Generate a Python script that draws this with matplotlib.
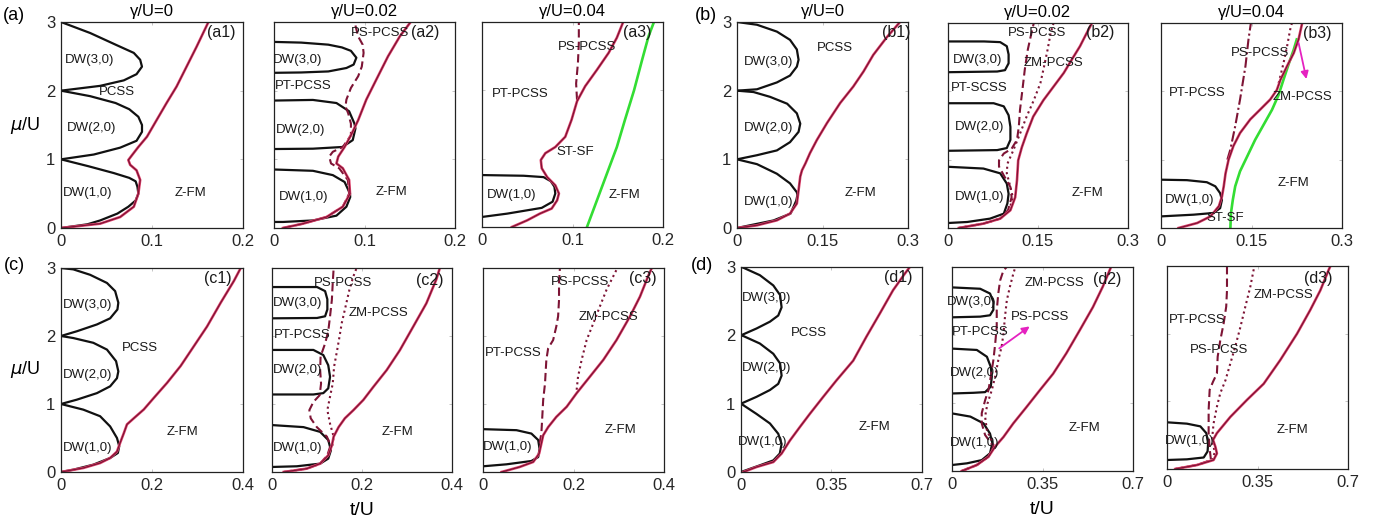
import matplotlib
matplotlib.use("Agg")
import matplotlib.pyplot as plt
import numpy as np

plt.rcParams['font.family'] = ['Liberation Sans', 'DejaVu Sans']

# ---------------- data: (t/U, mu/U) pairs ----------------
# (a1)
A1_DW1 = [(0,0),(0.029,0.054),(0.043,0.11),(0.062,0.21),(0.074,0.31),(0.082,0.40),(0.085,0.50),(0.084,0.60),(0.082,0.68),(0.075,0.73),(0.058,0.80),(0.03,0.9),(0,1.0)]
A1_DW2 = [(0,1.0),(0.036,1.07),(0.065,1.17),(0.083,1.27),(0.089,1.40),(0.089,1.50),(0.085,1.62),(0.075,1.73),(0.060,1.82),(0.032,1.92),(0,2.0)]
A1_DW3 = [(0,2.0),(0.043,2.07),(0.069,2.15),(0.083,2.24),(0.089,2.35),(0.087,2.45),(0.080,2.55),(0.060,2.67),(0.032,2.84),(0,3.0)]
A1_SOLID = [(0,0),(0.043,0.063),(0.065,0.16),(0.080,0.31),(0.085,0.50),(0.087,0.70),(0.083,0.84),(0.076,0.92),(0.074,0.99),(0.078,1.06),(0.085,1.18),(0.0945,1.33),(0.105,1.57),(0.116,1.82),(0.127,2.06),(0.138,2.35),(0.149,2.64),(0.162,3.0)]
# (a2)
A2_DW1 = [(0,0.852),(0.043,0.833),(0.065,0.77),(0.078,0.67),(0.084,0.50),(0.0842,0.45),(0.080,0.31),(0.069,0.18),(0.043,0.11),(0.01,0.088),(0,0.088)]
A2_DW2 = [(0,1.856),(0.043,1.865),(0.069,1.82),(0.083,1.70),(0.0889,1.52),(0.090,1.45),(0.087,1.28),(0.0757,1.18),(0.043,1.155),(0,1.15)]
A2_DW3 = [(0,2.71),(0.03,2.70),(0.06,2.67),(0.075,2.63),(0.085,2.58),(0.091,2.48),(0.088,2.38),(0.080,2.33),(0.06,2.28),(0.03,2.265),(0,2.26)]
A2_SOLID = [(0.0099,0),(0.032,0.063),(0.058,0.16),(0.076,0.31),(0.084,0.50),(0.083,0.70),(0.076,0.87),(0.069,0.94),(0.071,1.04),(0.078,1.18),(0.085,1.35),(0.093,1.57),(0.102,1.87),(0.113,2.16),(0.126,2.50),(0.139,2.79),(0.151,3.0)]
A2_DASH = [(0.0099,0),(0.032,0.063),(0.058,0.16),(0.076,0.31),(0.083,0.50),(0.0816,0.70),(0.072,0.87),(0.063,0.94),(0.061,1.04),(0.065,1.11),(0.076,1.18),(0.085,1.35),(0.085,1.52),(0.082,1.67),(0.079,1.77),(0.080,1.87),(0.085,2.04),(0.093,2.21),(0.097,2.35),(0.099,2.55),(0.098,2.67),(0.093,2.79),(0.089,3.0)]
# (a3)
A3_DW1 = [(0,0.76),(0.046,0.75),(0.068,0.73),(0.076,0.67),(0.080,0.59),(0.081,0.49),(0.078,0.37),(0.066,0.28),(0.028,0.196),(0,0.147)]
A3_SOLID = [(0.033,0),(0.050,0.098),(0.064,0.196),(0.077,0.27),(0.083,0.39),(0.085,0.49),(0.081,0.61),(0.072,0.73),(0.066,0.86),(0.065,0.98),(0.070,1.08),(0.081,1.17),(0.092,1.32),(0.099,1.57),(0.105,1.84),(0.114,2.06),(0.127,2.30),(0.140,2.55),(0.149,2.77),(0.156,3.0)]
A3_DASH = [(0.105,1.86),(0.104,2.1),(0.106,2.4),(0.107,2.7),(0.107,3.0)]
A3_GREEN = [(0.116,0),(0.127,0.39),(0.138,0.78),(0.149,1.17),(0.158,1.57),(0.168,2.0),(0.177,2.45),(0.184,2.79),(0.190,3.0)]
# (b1)
B1_DW1 = [(0,0),(0.023,0.04),(0.064,0.11),(0.094,0.21),(0.104,0.40),(0.106,0.48),(0.105,0.52),(0.093,0.65),(0.070,0.79),(0.035,0.93),(0,1.0)]
B1_DW2 = [(0,1.0),(0.035,1.06),(0.070,1.13),(0.093,1.25),(0.108,1.40),(0.111,1.52),(0.105,1.67),(0.088,1.81),(0.058,1.91),(0.029,1.98),(0,2.0)]
B1_DW3 = [(0,2.0),(0.035,2.02),(0.070,2.12),(0.093,2.22),(0.105,2.35),(0.108,2.45),(0.105,2.6),(0.093,2.74),(0.070,2.86),(0.035,2.96),(0,3.0)]
B1_SOLID = [(0,0),(0.035,0.039),(0.070,0.112),(0.093,0.21),(0.105,0.356),(0.108,0.55),(0.111,0.75),(0.114,0.84),(0.120,0.94),(0.128,1.09),(0.140,1.28),(0.158,1.53),(0.181,1.82),(0.204,2.06),(0.222,2.28),(0.239,2.52),(0.263,2.78),(0.286,3.0)]
# (b2)
B2_DW1 = [(0,0.896),(0.059,0.87),(0.087,0.80),(0.098,0.65),(0.101,0.50),(0.099,0.36),(0.093,0.21),(0.070,0.137),(0.032,0.088),(0,0.073)]
B2_DW2 = [(0,1.826),(0.076,1.826),(0.093,1.78),(0.101,1.65),(0.104,1.48),(0.104,1.29),(0.098,1.17),(0.082,1.14),(0,1.13)]
B2_DW3 = [(0,2.73),(0.06,2.73),(0.087,2.72),(0.098,2.66),(0.101,2.54),(0.101,2.41),(0.095,2.31),(0.082,2.29),(0,2.28)]
B2_SOLID = [(0.018,0),(0.059,0.064),(0.087,0.137),(0.104,0.26),(0.112,0.45),(0.115,0.70),(0.117,0.99),(0.123,1.18),(0.131,1.38),(0.142,1.63),(0.159,1.87),(0.176,2.07),(0.193,2.27),(0.206,2.46),(0.220,2.66),(0.231,2.85),(0.240,3.0)]
B2_DASH = [(0.018,0),(0.059,0.064),(0.087,0.137),(0.100,0.26),(0.106,0.45),(0.104,0.60),(0.093,0.77),(0.085,0.90),(0.085,0.99),(0.093,1.09),(0.106,1.16),(0.115,1.29),(0.118,1.48),(0.120,1.73),(0.124,2.02),(0.128,2.32),(0.133,2.61),(0.139,2.85),(0.143,3.0)]
B2_DOT = [(0.018,0),(0.059,0.064),(0.087,0.137),(0.102,0.26),(0.108,0.45),(0.104,0.60),(0.098,0.80),(0.099,0.94),(0.109,1.14),(0.120,1.38),(0.131,1.63),(0.143,1.87),(0.154,2.12),(0.160,2.36),(0.166,2.61),(0.171,2.85),(0.176,3.0)]
# (b3)
B3_DW1 = [(0,0.707),(0.043,0.70),(0.076,0.67),(0.090,0.61),(0.098,0.51),(0.101,0.41),(0.098,0.29),(0.087,0.22),(0.054,0.195),(0,0.17)]
B3_SOLID = [(0.029,0),(0.060,0.073),(0.082,0.17),(0.096,0.32),(0.101,0.46),(0.104,0.61),(0.107,0.80),(0.112,1.0),(0.120,1.20),(0.131,1.39),(0.148,1.59),(0.164,1.73),(0.181,1.88),(0.192,2.02),(0.198,2.17),(0.209,2.37),(0.220,2.56),(0.228,2.76),(0.234,3.0)]
B3_DASHDOT = [(0.110,1.0),(0.115,1.15),(0.123,1.49),(0.131,1.88),(0.140,2.37),(0.145,2.76),(0.149,3.0)]
B3_DOT = [(0.195,2.12),(0.203,2.41),(0.209,2.66),(0.214,2.90),(0.217,3.0)]
B3_GREEN = [(0.115,0),(0.116,0.22),(0.119,0.41),(0.123,0.61),(0.131,0.83),(0.143,1.05),(0.156,1.29),(0.170,1.51),(0.184,1.73),(0.195,1.95),(0.203,2.17),(0.212,2.41),(0.220,2.61),(0.225,2.76)]
B3_ARROW = [(0.227,2.75),(0.242,2.14)]
# (c1)
C1_DW1 = [(0,0),(0.027,0.034),(0.071,0.108),(0.108,0.206),(0.125,0.28),(0.128,0.38),(0.123,0.50),(0.108,0.67),(0.086,0.82),(0.049,0.917),(0,1.0)]
C1_DW2 = [(0,1.0),(0.035,1.064),(0.079,1.16),(0.108,1.26),(0.123,1.38),(0.126,1.48),(0.121,1.63),(0.101,1.80),(0.071,1.90),(0.027,1.97),(0,2.0)]
C1_DW3 = [(0,2.0),(0.035,2.07),(0.079,2.17),(0.108,2.26),(0.124,2.39),(0.126,2.49),(0.119,2.66),(0.101,2.78),(0.064,2.90),(0.027,2.98),(0,3.0)]
C1_SOLID = [(0,0),(0.049,0.059),(0.086,0.132),(0.108,0.206),(0.123,0.30),(0.130,0.43),(0.138,0.57),(0.145,0.70),(0.160,0.79),(0.182,0.92),(0.204,1.09),(0.233,1.31),(0.263,1.56),(0.292,1.85),(0.321,2.14),(0.351,2.49),(0.380,2.81),(0.395,3.0)]
# (c2)
C2_DW1 = [(0,0.69),(0.070,0.66),(0.107,0.59),(0.125,0.47),(0.131,0.32),(0.125,0.197),(0.107,0.123),(0.055,0.084),(0,0.074)]
C2_DW2 = [(0,1.795),(0.092,1.795),(0.114,1.72),(0.125,1.57),(0.129,1.40),(0.125,1.23),(0.114,1.16),(0.092,1.14),(0,1.14)]
C2_DW3 = [(0,2.72),(0.10,2.72),(0.118,2.66),(0.123,2.54),(0.123,2.39),(0.118,2.29),(0.10,2.265),(0,2.26)]
C2_SOLID = [(0.026,0),(0.077,0.049),(0.107,0.123),(0.125,0.246),(0.133,0.39),(0.137,0.52),(0.148,0.66),(0.162,0.79),(0.181,0.91),(0.203,1.06),(0.225,1.25),(0.255,1.50),(0.284,1.79),(0.314,2.14),(0.343,2.48),(0.365,2.83),(0.373,3.0)]
C2_DASH = [(0.026,0),(0.077,0.049),(0.107,0.123),(0.123,0.246),(0.130,0.39),(0.122,0.52),(0.0996,0.66),(0.086,0.79),(0.083,0.91),(0.092,1.03),(0.106,1.13),(0.109,1.30),(0.107,1.50),(0.108,1.70),(0.118,1.89),(0.125,2.07),(0.129,2.29),(0.133,2.53),(0.135,2.78),(0.137,3.0)]
C2_DOT = [(0.026,0),(0.077,0.049),(0.107,0.123),(0.125,0.246),(0.134,0.39),(0.137,0.52),(0.129,0.71),(0.123,0.91),(0.129,1.11),(0.135,1.30),(0.138,1.55),(0.145,1.80),(0.150,1.99),(0.155,2.19),(0.162,2.39),(0.172,2.68),(0.181,2.88),(0.188,3.0)]
# (c3)
C3_DW1 = [(0,0.63),(0.074,0.615),(0.107,0.565),(0.122,0.47),(0.125,0.34),(0.122,0.22),(0.107,0.162),(0.052,0.113),(0,0.084)]
C3_SOLID = [(0.041,0),(0.081,0.074),(0.111,0.148),(0.124,0.27),(0.129,0.42),(0.133,0.54),(0.144,0.66),(0.162,0.81),(0.185,0.96),(0.207,1.16),(0.236,1.40),(0.266,1.65),(0.295,1.94),(0.325,2.29),(0.347,2.58),(0.365,2.88),(0.373,3.0)]
C3_DASH = [(0.125,0.42),(0.129,0.57),(0.131,0.81),(0.133,1.06),(0.137,1.30),(0.140,1.65),(0.144,1.82),(0.155,1.94),(0.162,2.14),(0.166,2.29),(0.168,2.53),(0.168,2.78),(0.170,3.0)]
C3_DOT = [(0.207,1.21),(0.210,1.40),(0.218,1.65),(0.229,1.94),(0.244,2.19),(0.258,2.43),(0.273,2.68),(0.288,2.88),(0.297,3.0)]
# (d1)
D1_DW1 = [(0,0),(0.073,0.098),(0.125,0.17),(0.150,0.27),(0.157,0.41),(0.144,0.56),(0.112,0.71),(0.060,0.85),(0,1.0)]
D1_DW2 = [(0,1.0),(0.060,1.10),(0.112,1.20),(0.144,1.29),(0.157,1.41),(0.151,1.59),(0.125,1.73),(0.073,1.88),(0.009,1.99),(0,2.0)]
D1_DW3 = [(0,2.0),(0.060,2.10),(0.112,2.20),(0.144,2.29),(0.157,2.41),(0.151,2.59),(0.125,2.73),(0.073,2.88),(0.009,2.99),(0,3.0)]
D1_SOLID = [(0.009,0),(0.060,0.073),(0.125,0.146),(0.157,0.27),(0.189,0.46),(0.228,0.66),(0.266,0.85),(0.318,1.10),(0.369,1.34),(0.434,1.63),(0.485,1.98),(0.537,2.32),(0.588,2.66),(0.633,2.90),(0.653,3.0)]
# (d2)
D2_DW1 = [(0,0.847),(0.071,0.80),(0.122,0.70),(0.147,0.55),(0.156,0.41),(0.147,0.26),(0.115,0.16),(0.058,0.113),(0,0.088)]
D2_DW2 = [(0,1.80),(0.096,1.78),(0.135,1.68),(0.150,1.53),(0.154,1.39),(0.150,1.24),(0.128,1.16),(0.083,1.15),(0,1.14)]
D2_DW3 = [(0,2.70),(0.109,2.68),(0.147,2.61),(0.160,2.49),(0.160,2.37),(0.147,2.29),(0.109,2.27),(0,2.26)]
D2_SOLID = [(0.038,0),(0.096,0.088),(0.141,0.21),(0.167,0.36),(0.199,0.50),(0.237,0.70),(0.288,0.94),(0.340,1.19),(0.391,1.43),(0.442,1.73),(0.494,2.07),(0.545,2.41),(0.583,2.71),(0.615,3.0)]
D2_DASH = [(0.038,0),(0.096,0.088),(0.141,0.21),(0.160,0.36),(0.128,0.53),(0.115,0.70),(0.115,0.85),(0.128,1.04),(0.141,1.19),(0.150,1.39),(0.160,1.63),(0.167,1.87),(0.173,2.12),(0.173,2.36),(0.179,2.61),(0.186,2.80),(0.199,2.95),(0.212,3.0)]
D2_DOT = [(0.038,0),(0.096,0.088),(0.141,0.21),(0.163,0.36),(0.135,0.60),(0.128,0.80),(0.137,0.99),(0.154,1.19),(0.167,1.39),(0.179,1.63),(0.192,1.83),(0.199,2.02),(0.205,2.27),(0.212,2.51),(0.224,2.71),(0.237,2.90),(0.245,3.0)]
D2_ARROW = [(0.174,1.78),(0.309,2.15)]
# (d3)
D3_DW1 = [(0,0.69),(0.077,0.67),(0.129,0.63),(0.152,0.53),(0.159,0.38),(0.157,0.26),(0.142,0.17),(0.077,0.143),(0,0.133)]
D3_SOLID = [(0.032,0),(0.116,0.059),(0.180,0.133),(0.193,0.23),(0.187,0.33),(0.178,0.43),(0.193,0.53),(0.245,0.77),(0.309,1.02),(0.374,1.26),(0.438,1.61),(0.503,2.0),(0.554,2.35),(0.593,2.64),(0.625,2.94),(0.632,3.0)]
D3_DASH = [(0.032,0),(0.116,0.059),(0.170,0.133),(0.165,0.30),(0.161,0.53),(0.161,0.87),(0.165,1.17),(0.178,1.29),(0.193,1.41),(0.196,1.66),(0.206,1.90),(0.219,2.15),(0.229,2.40),(0.232,2.64),(0.232,3.0)]
D3_DOT = [(0.032,0),(0.116,0.059),(0.175,0.133),(0.185,0.25),(0.174,0.43),(0.180,0.67),(0.193,0.92),(0.206,1.12),(0.226,1.31),(0.245,1.56),(0.264,1.81),(0.284,2.10),(0.303,2.40),(0.322,2.69),(0.338,3.0)]

TITLES = ['γ/U=0', 'γ/U=0.02', 'γ/U=0.04']
XTICKS_A = [0, 0.1, 0.2]
XTICKS_B = [0, 0.15, 0.3]
XTICKS_C = [0, 0.2, 0.4]
XTICKS_D = [0, 0.35, 0.7]
YTICKS = [0, 1, 2, 3]

# ---------------- layout ----------------
W, H = 1395, 525
fig = plt.figure(figsize=(W/100, H/100), dpi=100)

def add_ax(l, r, t, b):
    return fig.add_axes([l/W, 1 - b/H, (r-l)/W, (b-t)/H])

MAROON = '#7d1435'
LIGHT = '#e3456f'
GREEN = '#33dd33'
MAG = '#e522c0'

def xy(pts):
    a = np.array(pts, dtype=float)
    return a[:, 0], a[:, 1]

def dw(ax, pts):
    x, y = xy(pts)
    ax.plot(x, y, color='#111111', lw=1.6, solid_joinstyle='round')

def solid(ax, pts):
    x, y = xy(pts)
    ax.plot(x, y, color=LIGHT, lw=1.9, solid_joinstyle='round')
    ax.plot(x, y, color=MAROON, lw=0.9, solid_joinstyle='round')

def dashed(ax, pts):
    x, y = xy(pts)
    ax.plot(x, y, color=MAROON, lw=1.5, dashes=(4, 2))

def dotted(ax, pts):
    x, y = xy(pts)
    ax.plot(x, y, color=MAROON, lw=1.5, dashes=(1, 1.6))

def dashdot(ax, pts):
    x, y = xy(pts)
    ax.plot(x, y, color=MAROON, lw=1.5, dashes=(5, 1.5, 1, 1.5))

def green(ax, pts):
    x, y = xy(pts)
    ax.plot(x, y, color=GREEN, lw=1.9)

def arrow(ax, pts):
    (x0, y0), (x1, y1) = pts
    ax.annotate('', xy=(x1, y1), xytext=(x0, y0),
                arrowprops=dict(arrowstyle='-|>', color=MAG, lw=1.3, mutation_scale=11))

def setup(ax, xticks, ylabels):
    ax.set_xlim(xticks[0], xticks[-1])
    ax.set_ylim(0, 3)
    ax.set_xticks(xticks)
    ax.set_xticklabels([('%g' % v) for v in xticks])
    ax.set_yticks(YTICKS)
    if ylabels:
        ax.set_yticklabels([str(v) for v in YTICKS])
    else:
        ax.set_yticklabels([])
    ax.tick_params(direction='in', length=2.5, width=0.6, colors='#bbbbbb',
                   labelcolor='#262626', labelsize=12, top=True, right=True, pad=4)
    for s in ax.spines.values():
        s.set_color('#222222')
        s.set_linewidth(0.9)

def labels(ax, items, fs=9.5):
    for s, x, y in items:
        ax.text(x, y, s, ha='center', va='center', fontsize=fs, color='#1a1a1a')

def tag(ax, s, x, y):
    ax.text(x, y, s, ha='center', va='center', fontsize=11.5, color='#1a1a1a')

def mulabel(ax):
    ax.set_ylabel(r'$\mu$/U', fontsize=13, rotation=0, labelpad=4, va='center', ha='right')

# ---- (a1)
ax = add_ax(61, 243, 22, 228); setup(ax, XTICKS_A, True)
for p in (A1_DW1, A1_DW2, A1_DW3): dw(ax, p)
solid(ax, A1_SOLID)
labels(ax, [('DW(3,0)', 0.031, 2.45), ('PCSS', 0.062, 1.98), ('DW(2,0)', 0.034, 1.46),
            ('DW(1,0)', 0.029, 0.51), ('Z-FM', 0.142, 0.51)])
tag(ax, '(a1)', 0.176, 2.85)
ax.set_title(TITLES[0], fontsize=12, pad=4)
mulabel(ax)

# ---- (a2)
ax = add_ax(274, 455, 22, 228); setup(ax, XTICKS_A, False)
for p in (A2_DW1, A2_DW2, A2_DW3): dw(ax, p)
dashed(ax, A2_DASH)
solid(ax, A2_SOLID)
labels(ax, [('DW(3,0)', 0.0265, 2.45), ('PT-PCSS', 0.032, 2.07), ('DW(2,0)', 0.029, 1.43),
            ('DW(1,0)', 0.033, 0.45), ('Z-FM', 0.130, 0.52), ('PS-PCSS', 0.117, 2.84)])
tag(ax, '(a2)', 0.167, 2.85)
ax.set_title(TITLES[1], fontsize=12, pad=4)

# ---- (a3)
ax = add_ax(482, 663, 22, 227); setup(ax, XTICKS_A, False)
dw(ax, A3_DW1)
dashed(ax, A3_DASH)
solid(ax, A3_SOLID)
green(ax, A3_GREEN)
labels(ax, [('PS-PCSS', 0.116, 2.64), ('PT-PCSS', 0.042, 1.94), ('ST-SF', 0.103, 1.10),
            ('DW(1,0)', 0.033, 0.47), ('Z-FM', 0.158, 0.47)])
tag(ax, '(a3)', 0.171, 2.85)
ax.set_title(TITLES[2], fontsize=12, pad=4)

# ---- (b1)
ax = add_ax(737, 908, 22, 228); setup(ax, XTICKS_B, True)
for p in (B1_DW1, B1_DW2, B1_DW3): dw(ax, p)
solid(ax, B1_SOLID)
labels(ax, [('PCSS', 0.172, 2.62), ('DW(3,0)', 0.056, 2.42), ('DW(2,0)', 0.056, 1.46),
            ('DW(1,0)', 0.056, 0.38), ('Z-FM', 0.216, 0.51)])
tag(ax, '(b1)', 0.280, 2.85)
ax.set_title(TITLES[0], fontsize=12, pad=4)

# ---- (b2)
ax = add_ax(948, 1128, 23, 228); setup(ax, XTICKS_B, False)
for p in (B2_DW1, B2_DW2, B2_DW3): dw(ax, p)
dotted(ax, B2_DOT)
dashed(ax, B2_DASH)
solid(ax, B2_SOLID)
labels(ax, [('PS-PCSS', 0.148, 2.85), ('DW(3,0)', 0.05, 2.46), ('ZM-PCSS', 0.175, 2.42),
            ('PT-SCSS', 0.052, 2.05), ('DW(2,0)', 0.052, 1.48), ('DW(1,0)', 0.052, 0.45),
            ('Z-FM', 0.232, 0.51)])
tag(ax, '(b2)', 0.253, 2.86)
ax.set_title(TITLES[1], fontsize=12, pad=4)

# ---- (b3)
ax = add_ax(1161, 1342, 23, 228); setup(ax, XTICKS_B, False)
dw(ax, B3_DW1)
dashdot(ax, B3_DASHDOT)
dotted(ax, B3_DOT)
green(ax, B3_GREEN)
solid(ax, B3_SOLID)
arrow(ax, B3_ARROW)
labels(ax, [('PS-PCSS', 0.164, 2.56), ('PT-PCSS', 0.060, 1.98), ('ZM-PCSS', 0.234, 1.92),
            ('Z-FM', 0.219, 0.66), ('DW(1,0)', 0.048, 0.41), ('ST-SF', 0.106, 0.15)])
tag(ax, '(b3)', 0.259, 2.85)
ax.set_title(TITLES[2], fontsize=12, pad=4)

# ---- (c1)
ax = add_ax(61, 243, 268, 472); setup(ax, XTICKS_C, True)
for p in (C1_DW1, C1_DW2, C1_DW3): dw(ax, p)
solid(ax, C1_SOLID)
labels(ax, [('DW(3,0)', 0.059, 2.46), ('PCSS', 0.174, 1.82), ('DW(2,0)', 0.059, 1.43),
            ('Z-FM', 0.266, 0.59), ('DW(1,0)', 0.059, 0.35)])
tag(ax, '(c1)', 0.345, 2.85)
mulabel(ax)

# ---- (c2)
ax = add_ax(272, 452, 268, 472); setup(ax, XTICKS_C, False)
for p in (C2_DW1, C2_DW2, C2_DW3): dw(ax, p)
dotted(ax, C2_DOT)
dashed(ax, C2_DASH)
solid(ax, C2_SOLID)
labels(ax, [('PS-PCSS', 0.158, 2.78), ('DW(3,0)', 0.056, 2.49), ('ZM-PCSS', 0.236, 2.34),
            ('PT-PCSS', 0.067, 2.01), ('DW(2,0)', 0.056, 1.50), ('Z-FM', 0.278, 0.59),
            ('DW(1,0)', 0.056, 0.35)])
tag(ax, '(c2)', 0.351, 2.82)
ax.set_xlabel('t/U', fontsize=14, labelpad=7)

# ---- (c3)
ax = add_ax(483, 664, 268, 472); setup(ax, XTICKS_C, False)
dw(ax, C3_DW1)
dotted(ax, C3_DOT)
dashed(ax, C3_DASH)
solid(ax, C3_SOLID)
labels(ax, [('PS-PCSS', 0.215, 2.79), ('ZM-PCSS', 0.277, 2.28), ('PT-PCSS', 0.066, 1.75),
            ('DW(1,0)', 0.055, 0.37), ('Z-FM', 0.303, 0.62)])
tag(ax, '(c3)', 0.354, 2.85)

# ---- (d1)
ax = add_ax(741, 922, 267, 472); setup(ax, XTICKS_D, True)
for p in (D1_DW1, D1_DW2, D1_DW3): dw(ax, p)
solid(ax, D1_SOLID)
labels(ax, [('DW(3,0)', 0.097, 2.55), ('PCSS', 0.263, 2.04), ('DW(2,0)', 0.097, 1.52),
            ('Z-FM', 0.518, 0.66), ('DW(1,0)', 0.085, 0.44)])
tag(ax, '(d1)', 0.607, 2.84)

# ---- (d2)
ax = add_ax(952, 1133, 267, 471); setup(ax, XTICKS_D, False)
for p in (D2_DW1, D2_DW2, D2_DW3): dw(ax, p)
dotted(ax, D2_DOT)
dashed(ax, D2_DASH)
solid(ax, D2_SOLID)
arrow(ax, D2_ARROW)
labels(ax, [('ZM-PCSS', 0.398, 2.76), ('DW(3,0)', 0.077, 2.49), ('PS-PCSS', 0.340, 2.26),
            ('PT-PCSS', 0.108, 2.04), ('DW(2,0)', 0.089, 1.44), ('Z-FM', 0.514, 0.63),
            ('DW(1,0)', 0.089, 0.41)])
tag(ax, '(d2)', 0.599, 2.81)
ax.set_xlabel('t/U', fontsize=14, labelpad=7)

# ---- (d3)
ax = add_ax(1167, 1348, 266, 469); setup(ax, XTICKS_D, False)
dw(ax, D3_DW1)
dotted(ax, D3_DOT)
dashed(ax, D3_DASH)
solid(ax, D3_SOLID)
labels(ax, [('ZM-PCSS', 0.449, 2.57), ('PT-PCSS', 0.116, 2.20), ('PS-PCSS', 0.201, 1.76),
            ('Z-FM', 0.487, 0.58), ('DW(1,0)', 0.089, 0.41)])
tag(ax, '(d3)', 0.584, 2.82)

# group labels
fig.text(14/W, 1 - 16/H, '(a)', ha='center', va='center', fontsize=13)
fig.text(706/W, 1 - 16/H, '(b)', ha='center', va='center', fontsize=13)
fig.text(14/W, 1 - 265/H, '(c)', ha='center', va='center', fontsize=13)
fig.text(702/W, 1 - 265/H, '(d)', ha='center', va='center', fontsize=13)

fig.savefig('out.png', dpi=100)
